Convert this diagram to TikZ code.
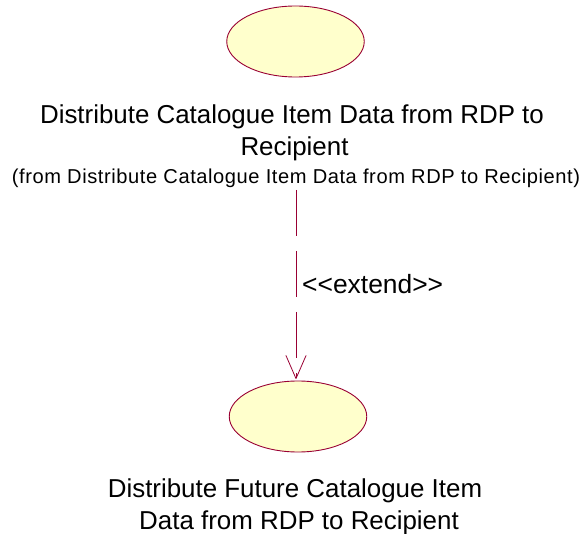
\documentclass[tikz,border=0pt]{standalone}
\usepackage{fontspec}
\setmainfont{Liberation Sans}
\newfontfamily\spacedfont[LetterSpace=2.85]{Liberation Sans}
\usetikzlibrary{arrows.meta,shapes.geometric}
\definecolor{umlline}{RGB}{153,0,51}
\definecolor{umlfill}{RGB}{255,255,204}
\tikzset{
  usecase/.style={ellipse,draw=umlline,fill=umlfill,line width=0.9pt,minimum width=137.5pt,minimum height=71pt,inner sep=0pt},
  bigtext/.style={align=center,inner sep=0pt,font=\fontsize{25.9pt}{32pt}\selectfont},
  smalltext/.style={align=center,inner sep=0pt,font=\fontsize{20.1pt}{24pt}\spacedfont},
  extendline/.style={draw=umlline,line width=0.7pt,dash pattern=on 46pt off 15pt,-{Straight Barb[length=23pt,width=20pt,line width=0.8pt,round]}}
}
\begin{document}
\begin{tikzpicture}[x=1pt,y=-1pt]
\useasboundingbox (0,0) rectangle (581,534);
\node[usecase] (a) at (295.5,41.5) {};
\node[usecase] (b) at (298,416.5) {};
\node[bigtext] (atext) at (292,132.5) {Distribute Catalogue Item Data from RDP to\\\hspace*{5pt}Recipient};
\node[smalltext] (afrom) at (296,178) {(from Distribute Catalogue Item Data from RDP to Recipient)};
\node[bigtext] (btext) at (295,506.5) {Distribute Future Catalogue Item\\\hspace*{8pt}Data from RDP to Recipient};
\node[font=\fontsize{26.4pt}{30pt}\selectfont,inner sep=0pt,anchor=west] (ext) at (302,284) {<{}<extend>{}>};
\coordinate (start) at (296,190);
\coordinate (end) at (296,379);
\draw[extendline] (start) -- (end);
\end{tikzpicture}
\end{document}
